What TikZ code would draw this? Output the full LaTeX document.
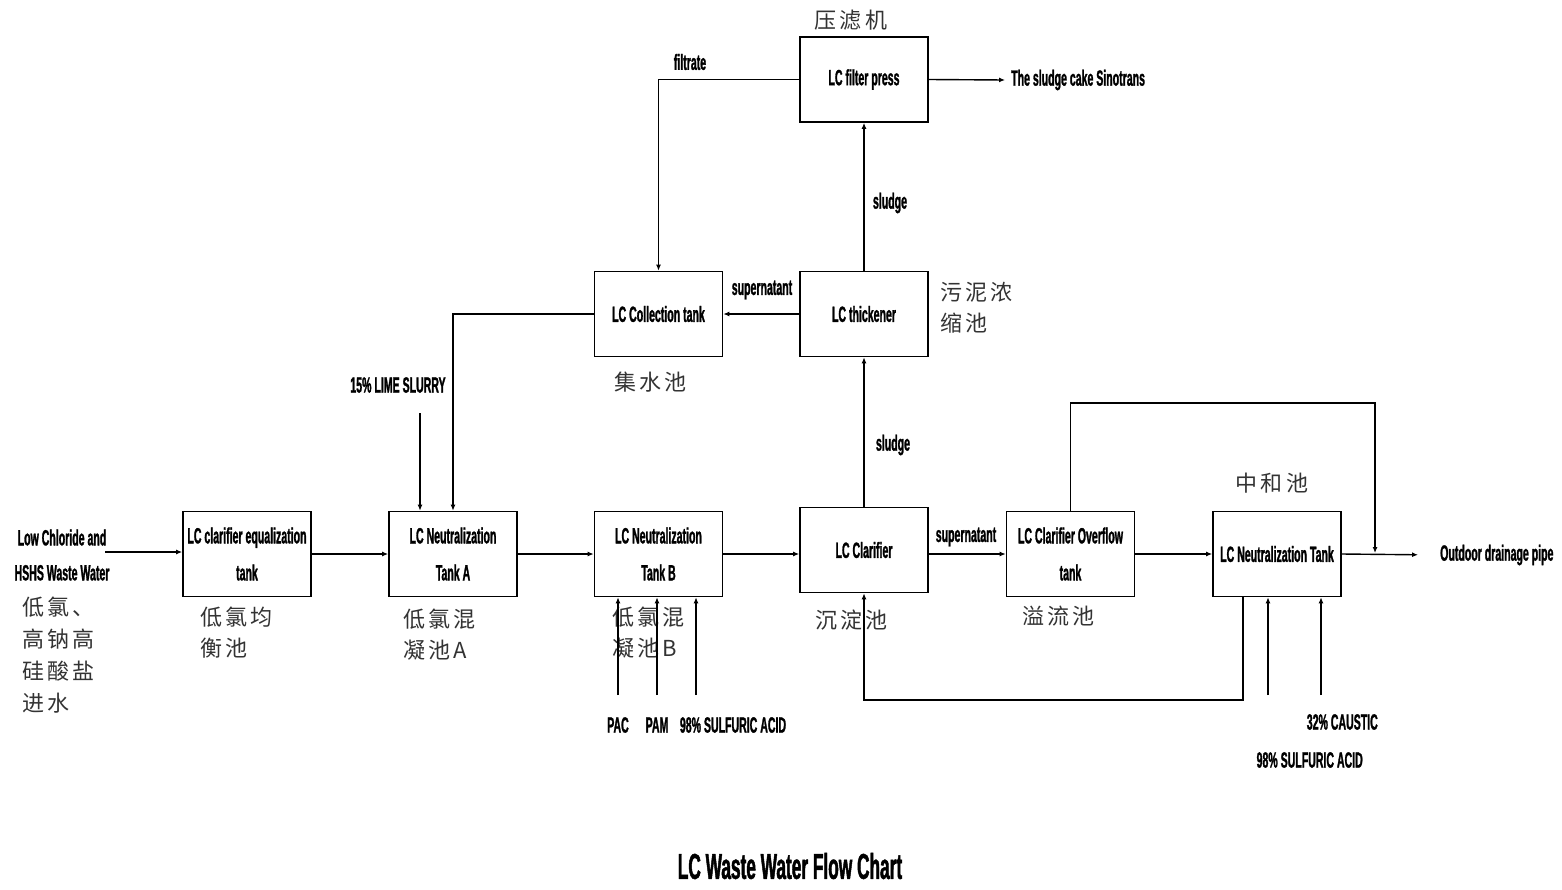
\documentclass[tikz,border=0pt]{standalone}
\usepackage{fontspec}
\usetikzlibrary{arrows.meta}
\setmainfont{Liberation Sans}
\newfontfamily\lab[FakeStretch=0.48,FakeBold=1.2]{Liberation Sans}
\newfontfamily\cjk[LetterSpace=15]{Noto Sans CJK SC}
\tikzset{
 box/.style={draw, line width=1.6pt, minimum width=128pt, minimum height=85pt, inner sep=0pt, align=center, font=\lab\bfseries\fontsize{22}{37}\selectfont},
 flow/.style={line width=1.4pt, -{Latex[length=6pt,width=5pt]}},
 lbl/.style={font=\lab\bfseries\fontsize{22}{35}\selectfont, inner sep=0pt, align=center},
 zh/.style={font=\cjk\fontsize{22}{31}\selectfont, inner sep=0pt, align=left, text=black!80},
}
\begin{document}
\begin{tikzpicture}[x=1pt,y=-1pt]
\useasboundingbox (0,0) rectangle (1562,889);
% boxes
\node[box] (fp) at (864,79.5) {LC filter press};
\node[box] (ct) at (658.5,314) {LC Collection tank};
\node[box] (th) at (864,314) {LC thickener};
\node[box] (eq) at (247,554) {LC clarifier equalization\\tank};
\node[box] (na) at (453,554) {LC Neutralization\\Tank A};
\node[box] (nb) at (658.5,554) {LC Neutralization\\Tank B};
\node[box] (cl) at (864,550) {LC Clarifier};
\node[box] (ov) at (1070.5,554) {LC Clarifier Overflow\\tank};
\node[box] (nt) at (1277,554) {LC Neutralization Tank};
% text labels
\node[lbl] (in) at (62,555) {Low Chloride and\\HSHS Waste Water};
\node[lbl, anchor=west, inner sep=6pt] (sc) at (1005,80) {The sludge cake Sinotrans};
\node[lbl, anchor=west] (out) at (1440,555) {Outdoor drainage pipe};
\node[lbl] (lfil) at (690,62) {filtrate};
\node[lbl] (lsup1) at (762,290) {supernatant};
\node[lbl] (lsl1) at (890,203) {sludge};
\node[lbl] (lsl2) at (893,445) {sludge};
\node[lbl] (lsup2) at (966,537) {supernatant};
\node[lbl] (llime) at (398,385) {15\% LIME SLURRY};
\node[lbl] (lpac) at (618,725) {PAC};
\node[lbl] (lpam) at (657,725) {PAM};
\node[lbl] (lsa1) at (733,725) {98\% SULFURIC ACID};
\node[lbl, anchor=east] (lca) at (1378,722) {32\% CAUSTIC};
\node[lbl, anchor=east] (lsa2) at (1363,760) {98\% SULFURIC ACID};
\node[font=\lab\bfseries\fontsize{36}{40}\selectfont, inner sep=0pt] (title) at (790,866) {LC Waste Water Flow Chart};
% chinese labels
\node[zh] (zfp) at (851,20) {压滤机};
\node[zh, anchor=west] (zct) at (614,382) {集水池};
\node[zh, anchor=north west] (zth) at (940,282) {污泥浓\\缩池};
\node[zh, anchor=north west] (zeq) at (200,607) {低氯均\\衡池};
\node[zh, anchor=north west] (zna) at (403,609) {低氯混\\凝池A};
\node[zh, anchor=north west] (znb) at (612,607) {低氯混\\凝池B};
\node[zh, anchor=west] (zcl) at (815,620) {沉淀池};
\node[zh, anchor=west] (zov) at (1022,616) {溢流池};
\node[zh] (znt) at (1272,483) {中和池};
\node[zh, anchor=north west, font=\cjk\fontsize{22}{32}\selectfont] (zin) at (22,597) {低氯、\\高钠高\\硅酸盐\\进水};
% coordinates
\coordinate (lime) at (420,413);
\coordinate (b1) at (618,695);
\coordinate (b2) at (657,695);
\coordinate (b3) at (696,695);
\coordinate (n1) at (1268,695);
\coordinate (n2) at (1321,695);
\coordinate (j) at (1375,553);
% connectors
\draw[flow] (fp.east) -- (sc.west);
\draw[flow] (fp.west) -- (fp.west -| ct.north) -- (ct.north);
\draw[flow] (th.north) -- (fp.south);
\draw[flow] (th.west) -- (ct.east);
\draw[flow] (ct.west) -| (na.north);
\draw[flow] (lime) -- (lime |- na.north);
\draw[flow] (cl.north) -- (th.south);
\draw[flow] (105,552) -- (eq.west |- 0,552);
\draw[flow] (eq.east) -- (na.west);
\draw[flow] (na.east) -- (nb.west);
\draw[flow] (nb.east) -- (nb.east -| cl.west);
\draw[flow] (cl.east |- ov.west) -- (ov.west);
\draw[flow] (ov.east) -- (nt.west);
\draw[flow, shorten >=22pt] (nt.east) -- (out.west);
\draw[flow] (ov.north) -- (ov.north |- 0,403) -| (j);
\draw[flow] (nt.south -| 1243,0) -- (1243,700) -| (cl.south);
\draw[flow] (b1) -- (b1 |- nb.south);
\draw[flow] (b2) -- (b2 |- nb.south);
\draw[flow] (b3) -- (b3 |- nb.south);
\draw[flow] (n1) -- (n1 |- nt.south);
\draw[flow] (n2) -- (n2 |- nt.south);
\end{tikzpicture}
\end{document}
